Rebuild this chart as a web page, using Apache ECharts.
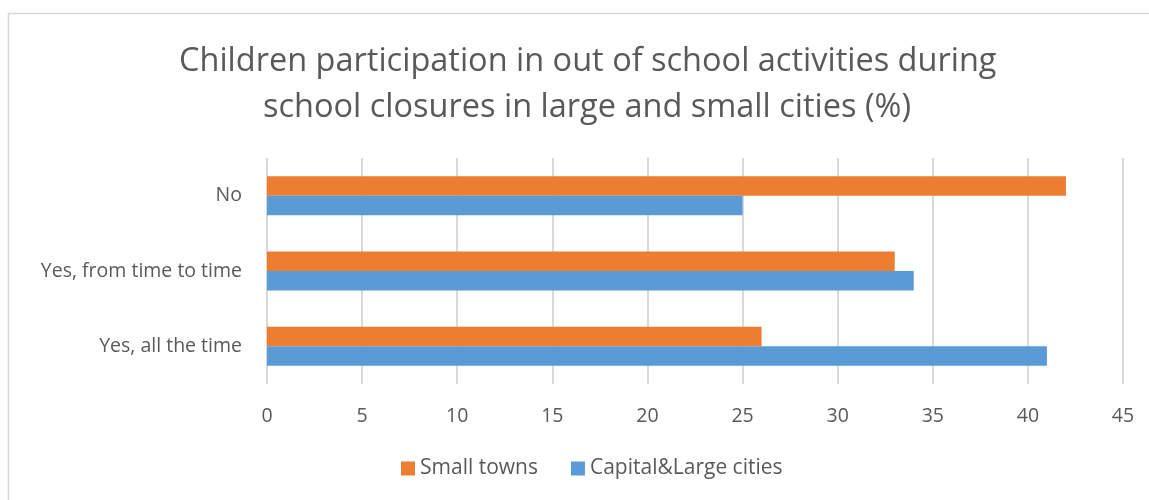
<!DOCTYPE html>
<html>
<head>
<meta charset="utf-8">
<script src="https://cdn.jsdelivr.net/npm/echarts@6/dist/echarts.min.js"></script>
<style>
  html, body { margin: 0; padding: 0; background: #fff; }
  #main { width: 1149px; height: 500px; }
</style>
</head>
<body>
<div id="main"></div>
<script>
// 类目（自下而上）
var categories = ['Yes, all the time', 'Yes, from time to time', 'No'];
var smallTowns = [26, 33, 42];
var largeCities = [41, 34, 25];
var xTicks = { min: 0, max: 45, interval: 5 };
var titleLines = [
	'Children participation in out of school activities during',
	'school closures in large and small cities (%)'
];

var textColor = '#595959';
var fontName = 'Open Sans';

var chart = echarts.init(document.getElementById('main'), null, { renderer: 'canvas' });

// 标题两行分开放，略向右偏
var titleStyle = {
	color: textColor,
	fontSize: 32.5,
	fontWeight: 'normal',
	fontFamily: fontName
};

var option = {
	backgroundColor: '#fff',
	textStyle: { fontFamily: fontName },
	title: [
		{ text: titleLines[0], left: 174, top: 40, textStyle: titleStyle },
		{ text: titleLines[1], left: 258, top: 86, textStyle: titleStyle }
	],
	// 外框
	graphic: [
		{
			type: 'rect',
			shape: { x: 8.5, y: 13.5, width: 1300, height: 700 },
			style: { fill: 'none', stroke: '#D9D9D9', lineWidth: 1.5 },
			silent: true
		}
	],
	legend: {
		data: ['Small towns', 'Capital&Large cities'],
		bottom: 16,
		left: 396,
		itemWidth: 14,
		itemHeight: 14,
		itemGap: 33,
		icon: 'rect',
		textStyle: { color: textColor, fontSize: 21, fontFamily: fontName }
	},
	grid: {
		left: 267,
		right: 26,
		top: 158,
		bottom: 116
	},
	xAxis: {
		type: 'value',
		min: xTicks.min,
		max: xTicks.max,
		interval: xTicks.interval,
		axisLine: { show: false },
		axisTick: { show: false },
		axisLabel: { color: textColor, fontSize: 19.5, margin: 22, fontFamily: fontName },
		splitLine: { show: true, lineStyle: { color: '#D9D9D9', width: 2 } }
	},
	yAxis: {
		type: 'category',
		data: categories,
		axisLine: { show: false },
		axisTick: { show: false },
		axisLabel: { color: textColor, fontSize: 19.5, margin: 25, fontFamily: fontName }
	},
	series: [
		{
			name: 'Small towns',
			type: 'bar',
			data: smallTowns,
			barWidth: 19.5,
			barGap: '0%',
			itemStyle: { color: '#ED7D31' }
		},
		{
			name: 'Capital&Large cities',
			type: 'bar',
			data: largeCities,
			barWidth: 19.5,
			barGap: '0%',
			itemStyle: { color: '#5B9BD5' }
		}
	]
};

chart.setOption(option);
</script>
</body>
</html>
